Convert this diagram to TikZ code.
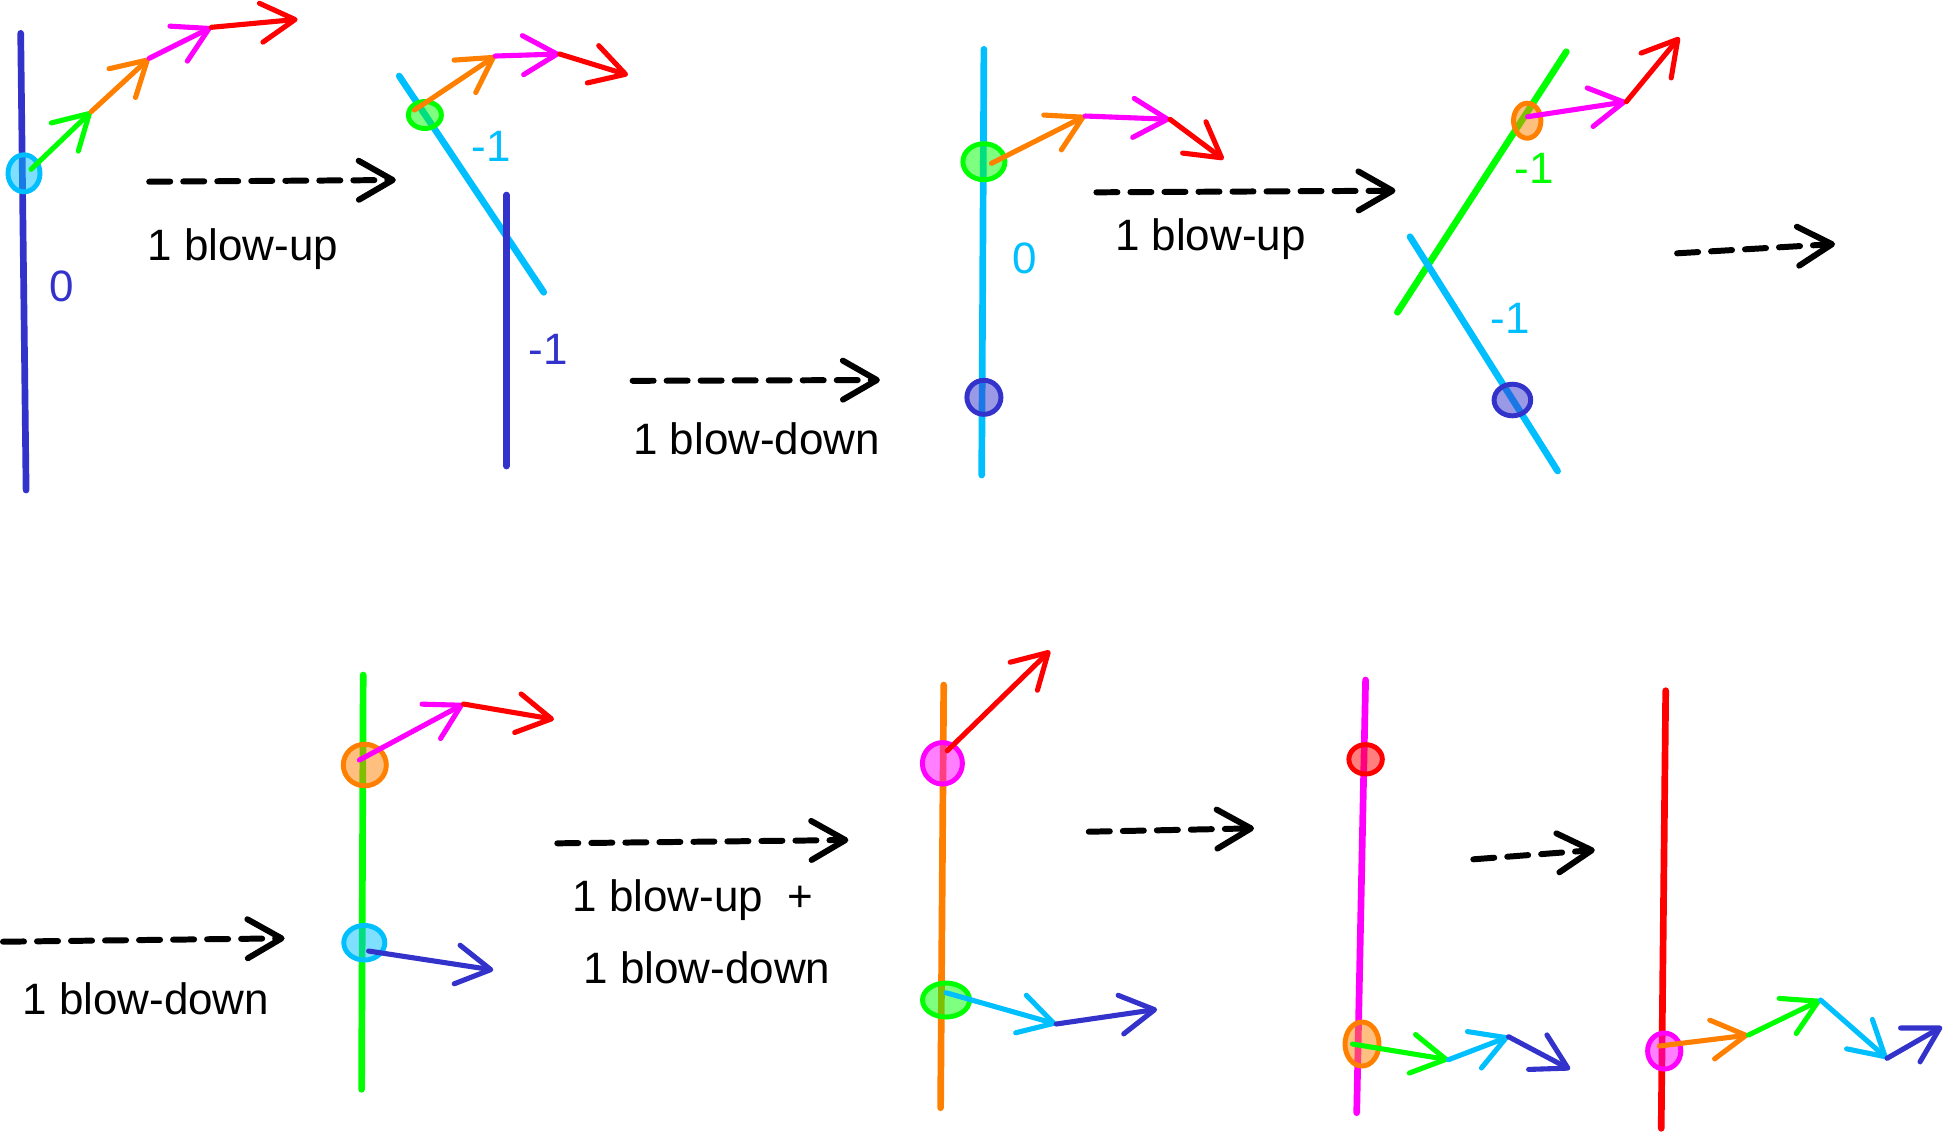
\documentclass[tikz,border=0pt]{standalone}
\usepackage{fontspec}
\setmainfont{Liberation Sans}
\usetikzlibrary{arrows.meta}
\definecolor{cBlue}{RGB}{51,51,204}
\definecolor{cCyan}{RGB}{0,191,255}
\definecolor{cGreen}{RGB}{0,255,0}
\definecolor{cOrange}{RGB}{255,128,0}
\definecolor{cMag}{RGB}{255,0,255}
\definecolor{cRed}{RGB}{255,0,0}
\tikzset{
  curve/.style={line width=1.9pt, line cap=round},
  vec/.style={line width=1.45pt, line cap=round, line join=round,
    -{Straight Barb[length=0.34cm,width=0.39cm,round]}},
  dasharr/.style={line width=1.7pt, line cap=round, black,
    dash pattern=on 0.21cm off 0.13cm,
    -{Straight Barb[length=0.34cm,width=0.39cm,round]}},
  pt/.style={line width=1.4pt, fill opacity=0.5},
  lbl/.style={font=\fontsize{12.5}{15}\selectfont, inner sep=0},
  txt/.style={font=\fontsize{12.5}{15}\selectfont, inner sep=0, anchor=base west},
}
\begin{document}
\begin{tikzpicture}[x=0.01cm, y=-0.01cm]
\useasboundingbox (0,0) rectangle (1945,1132);

% ---------- Panel 1 ----------
\coordinate (L1a) at (20.7,33.3); \coordinate (L1b) at (26.1,490);
\draw[curve, cBlue] (L1a) -- (L1b);
\coordinate (E1) at (24,173.3);
\draw[pt, draw=cCyan, fill=cCyan] (E1) ellipse [x radius=0.16cm, y radius=0.185cm];
\coordinate (A0) at (31.1,169.3); \coordinate (A1) at (91.2,111.7);
\coordinate (A2) at (149.2,58.3); \coordinate (A3) at (211.4,27.3);
\coordinate (A4) at (297.6,19.3);
\draw[vec, cGreen] (A0) -- (A1);
\draw[vec, cOrange] (A1) -- (A2);
\draw[vec, cMag] (A2) -- (A3);
\draw[vec, cRed] (A3) -- (A4);
\node[lbl, text=cBlue] (n0a) at (62.2,286.7) {0};
\coordinate (D1a) at (149.2,181.7); \coordinate (D1b) at (395.8,180);
\draw[dasharr] (D1a) -- (D1b);
\node[txt] (t1) at (147,260) {1 blow-up};

% ---------- Panel 2 ----------
\coordinate (L2a) at (399.2,76); \coordinate (L2b) at (543.8,292.3);
\draw[curve, cCyan] (L2a) -- (L2b);
\coordinate (L3a) at (506.5,195); \coordinate (L3b) at (506.5,466);
\draw[curve, cBlue] (L3a) -- (L3b);
\coordinate (E2) at (424.9,115);
\draw[pt, draw=cGreen, fill=cGreen] (E2) ellipse [x radius=0.165cm, y radius=0.135cm];
\coordinate (B0) at (414.5,110); \coordinate (B1) at (495.3,56);
\coordinate (B2) at (559.6,54); \coordinate (B3) at (628,75);
\draw[vec, cOrange] (B0) -- (B1);
\draw[vec, cMag] (B1) -- (B2);
\draw[vec, cRed] (B2) -- (B3);
\node[lbl, text=cCyan] (m1a) at (491.2,146.7) {-1};
\node[lbl, text=cBlue] (m1b) at (548,349.3) {-1};
\coordinate (D2a) at (632.6,380.8); \coordinate (D2b) at (879.9,380);
\draw[dasharr] (D2a) -- (D2b);
\node[txt] (t2) at (632.6,454) {1 blow-down};

% ---------- Panel 3 ----------
\coordinate (L4a) at (983.9,49.3); \coordinate (L4b) at (981.7,475);
\draw[curve, cCyan] (L4a) -- (L4b);
\coordinate (E3) at (983.9,161.7);
\draw[pt, draw=cGreen, fill=cGreen] (E3) ellipse [x radius=0.21cm, y radius=0.18cm];
\coordinate (E4) at (983.9,397.3);
\draw[pt, draw=cBlue, fill=cBlue] (E4) ellipse [x radius=0.17cm, y radius=0.17cm];
\coordinate (C0) at (991.5,163.3); \coordinate (C1) at (1085.2,116);
\coordinate (C2) at (1170,119.3); \coordinate (C3) at (1223.6,159.3);
\draw[vec, cOrange] (C0) -- (C1);
\draw[vec, cMag] (C1) -- (C2);
\draw[vec, cRed] (C2) -- (C3);
\node[lbl, text=cCyan] (n0b) at (1025,258.3) {0};
\coordinate (D3a) at (1096.4,192.3); \coordinate (D3b) at (1395.5,190.7);
\draw[dasharr] (D3a) -- (D3b);
\node[txt] (t3) at (1114.3,250) {1 blow-up};

% ---------- Panel 4 ----------
\coordinate (L5a) at (1566.3,51.7); \coordinate (L5b) at (1397.4,312.3);
\draw[curve, cGreen] (L5a) -- (L5b);
\coordinate (L6a) at (1410,236.7); \coordinate (L6b) at (1557.6,471);
\draw[curve, cCyan] (L6a) -- (L6b);
\coordinate (E5) at (1527.2,120.7);
\draw[pt, draw=cOrange, fill=cOrange] (E5) ellipse [x radius=0.137cm, y radius=0.175cm];
\coordinate (E6) at (1512.4,400);
\draw[pt, draw=cBlue, fill=cBlue] (E6) ellipse [x radius=0.183cm, y radius=0.158cm];
\coordinate (F0) at (1527.6,116.7); \coordinate (F1) at (1626.3,101.7);
\coordinate (F2) at (1679.4,37.3);
\draw[vec, cMag] (F0) -- (F1);
\draw[vec, cRed] (F1) -- (F2);
\node[lbl, text=cGreen] (m1c) at (1534,168.3) {-1};
\node[lbl, text=cCyan] (m1d) at (1510.3,318.3) {-1};
\coordinate (D4a) at (1677.1,253.3); \coordinate (D4b) at (1835,244);
\draw[dasharr] (D4a) -- (D4b);

% ---------- Row 2 ----------
\coordinate (D5a) at (3,941.7); \coordinate (D5b) at (284.6,938.3);
\draw[dasharr] (D5a) -- (D5b);
\node[txt] (t4) at (21.7,1014.3) {1 blow-down};

% Panel 5
\coordinate (L7a) at (363.2,675); \coordinate (L7b) at (361.6,1089.3);
\draw[curve, cGreen] (L7a) -- (L7b);
\coordinate (E7) at (364.8,765);
\draw[pt, draw=cOrange, fill=cOrange] (E7) ellipse [x radius=0.215cm, y radius=0.208cm];
\coordinate (E8) at (364.3,942.7);
\draw[pt, draw=cCyan, fill=cCyan] (E8) ellipse [x radius=0.205cm, y radius=0.173cm];
\coordinate (G0) at (359.4,760); \coordinate (G1) at (463.5,704);
\coordinate (G2) at (554,719.3);
\draw[vec, cMag] (G0) -- (G1);
\draw[vec, cRed] (G1) -- (G2);
\coordinate (H0) at (368.6,951); \coordinate (H1) at (493.3,970);
\draw[vec, cBlue] (H0) -- (H1);
\coordinate (D6a) at (557.3,843.3); \coordinate (D6b) at (848.4,840);
\draw[dasharr] (D6a) -- (D6b);
\node[txt] (t5) at (572,911.7) {1 blow-up\ \ +};
\node[txt] (t6) at (582.8,983.3) {1 blow-down};

% Panel 6
\coordinate (L8a) at (943.7,685); \coordinate (L8b) at (940.6,1107.7);
\draw[curve, cOrange] (L8a) -- (L8b);
\coordinate (E9) at (942.4,763.3);
\draw[pt, draw=cMag, fill=cMag] (E9) ellipse [x radius=0.20cm, y radius=0.207cm];
\coordinate (E10) at (946,1000);
\draw[pt, draw=cGreen, fill=cGreen] (E10) ellipse [x radius=0.235cm, y radius=0.17cm];
\coordinate (I0) at (947.3,750.7); \coordinate (I1) at (1050,650.7);
\draw[vec, cRed] (I0) -- (I1);
\coordinate (J0) at (946,992.7); \coordinate (J1) at (1056.2,1024);
\coordinate (J2) at (1157.1,1009.3);
\draw[vec, cCyan] (J0) -- (J1);
\draw[vec, cBlue] (J1) -- (J2);
\coordinate (D7a) at (1088.8,831.7); \coordinate (D7b) at (1254,828.3);
\draw[dasharr] (D7a) -- (D7b);

% Panel 7
\coordinate (L9a) at (1365.6,680); \coordinate (L9b) at (1356.7,1112.7);
\draw[curve, cMag] (L9a) -- (L9b);
\coordinate (E11) at (1365.6,759.3);
\draw[pt, draw=cRed, fill=cRed] (E11) ellipse [x radius=0.167cm, y radius=0.147cm];
\coordinate (E12) at (1362,1044);
\draw[pt, draw=cOrange, fill=cOrange] (E12) ellipse [x radius=0.17cm, y radius=0.22cm];
\coordinate (K0) at (1352.5,1044); \coordinate (K1) at (1448.5,1059.7);
\coordinate (K2) at (1508.6,1036.7); \coordinate (K3) at (1570.1,1069.3);
\draw[vec, cGreen] (K0) -- (K1);
\draw[vec, cCyan] (K1) -- (K2);
\draw[vec, cBlue] (K2) -- (K3);
\coordinate (D8a) at (1473.3,859.3); \coordinate (D8b) at (1594.8,850);
\draw[dasharr] (D8a) -- (D8b);

% Panel 8
\coordinate (L10a) at (1665.7,690.7); \coordinate (L10b) at (1661.2,1128.3);
\draw[curve, cRed] (L10a) -- (L10b);
\coordinate (E13) at (1664.2,1051);
\draw[pt, draw=cMag, fill=cMag] (E13) ellipse [x radius=0.166cm, y radius=0.18cm];
\coordinate (M0) at (1659.3,1046); \coordinate (M1) at (1748.5,1035);
\coordinate (M2) at (1820.6,1000); \coordinate (M3) at (1887,1058.3);
\coordinate (M4) at (1942,1026.7);
\draw[vec, cOrange] (M0) -- (M1);
\draw[vec, cGreen] (M1) -- (M2);
\draw[vec, cCyan] (M2) -- (M3);
\draw[vec, cBlue] (M3) -- (M4);
\end{tikzpicture}
\end{document}
